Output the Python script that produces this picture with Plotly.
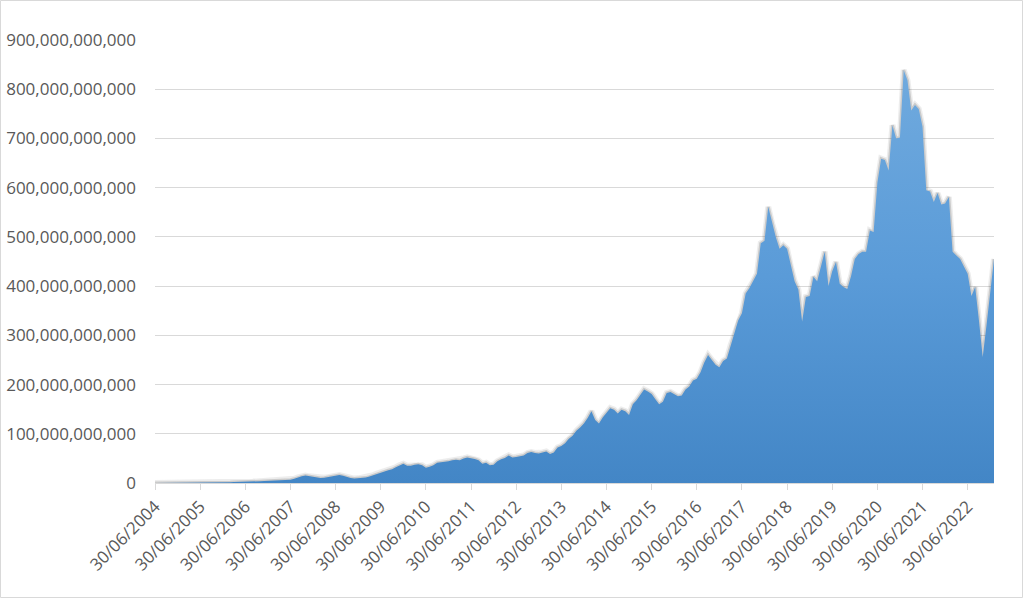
import pandas as pd
import plotly.graph_objects as go

# Monthly values in billions, June 2004 .. January 2023 (224 months)
values_bn = [
    0.2, 0.2, 0.2, 0.3, 0.3, 0.3, 0.4, 0.4, 0.4, 0.5,
    0.5, 0.6, 0.6, 0.7, 0.7, 0.8, 0.9, 1.0, 1.1, 1.3,
    1.6, 2.2, 2.6, 2.8, 3.0, 3.1, 3.0, 3.3, 3.6, 3.9,
    4.2, 4.4, 4.8, 5.5, 5.2, 5.6, 6.5, 8.5, 11.5, 13.5,
    15.0, 13.5, 12.5, 11.0, 10.0, 10.5, 11.8, 13.5, 14.0, 16.0,
    14.5, 12.0, 10.0, 9.0, 9.5, 10.8, 11.0, 13.0, 16.0, 19.0,
    21.0, 23.5, 26.0, 28.0, 32.0, 36.0, 39.0, 35.0, 35.0, 37.0,
    38.0, 36.0, 31.0, 33.0, 36.0, 41.0, 42.0, 42.0, 44.0, 46.0,
    47.0, 46.0, 50.0, 52.0, 51.0, 49.0, 46.0, 39.0, 41.0, 36.0,
    37.0, 44.0, 48.0, 51.0, 56.0, 52.0, 53.0, 55.0, 56.0, 61.0,
    63.0, 61.0, 60.0, 62.0, 64.0, 59.0, 62.0, 72.0, 75.0, 81.0,
    90.0, 96.0, 106.0, 113.0, 121.0, 132.0, 146.0, 128.0, 121.0, 133.0,
    143.0, 152.0, 149.0, 141.0, 149.0, 146.0, 138.0, 160.0, 168.0, 180.0,
    190.0, 186.0, 181.0, 170.0, 160.0, 165.0, 183.0, 185.0, 181.0, 176.0,
    178.0, 190.0, 196.0, 208.0, 212.0, 225.0, 245.0, 260.0, 250.0, 240.0,
    235.0, 248.0, 253.0, 280.0, 305.0, 330.0, 345.0, 385.0, 396.0, 410.0,
    425.0, 487.0, 492.0, 561.0, 528.0, 500.0, 476.0, 483.0, 476.0, 440.0,
    410.0, 393.0, 328.0, 378.0, 380.0, 419.0, 410.0, 440.0, 470.0, 400.0,
    430.0, 449.0, 405.0, 398.0, 394.0, 420.0, 455.0, 465.0, 470.0, 470.0,
    513.0, 510.0, 610.0, 659.0, 656.0, 635.0, 727.0, 700.0, 702.0, 839.0,
    818.0, 757.0, 768.0, 760.0, 724.0, 595.0, 592.0, 571.0, 589.0, 566.0,
    568.0, 581.0, 470.0, 462.0, 455.0, 440.0, 425.0, 380.0, 398.0, 330.0,
    256.0, 320.0, 390.0, 455.0,
]
values = [v * 1e9 for v in values_bn]

dates = pd.date_range("2004-06-30", periods=len(values), freq="ME")
categories = [d.strftime("%d/%m/%Y") for d in dates]
tick_labels = [c for c in categories if c.startswith("30/06/")]

y_ticks = [i * 100e9 for i in range(10)]

GRID = "#d9d9d9"
TEXT = "#595959"
FONT = "Open Sans"

fig = go.Figure()

# soft shadow along the top edge
fig.add_trace(go.Scatter(
    x=categories, y=values, mode="lines",
    line=dict(color="rgba(80,80,80,0.10)", width=6),
    hoverinfo="skip", showlegend=False,
))
fig.add_trace(go.Scatter(
    x=categories, y=values, mode="lines",
    line=dict(color="rgba(70,70,70,0.20)", width=3),
    hoverinfo="skip", showlegend=False,
))
fig.add_trace(go.Scatter(
    x=categories, y=values, mode="lines",
    line=dict(width=0, color="#5b9bd5"),
    fill="tozeroy",
    fillgradient=dict(
        type="vertical",
        start=0, stop=840e9,
        colorscale=[[0, "#4386c6"], [0.5, "#5a9bd8"], [1, "#70aade"]],
    ),
    showlegend=False,
))

L, R, T, B = 155, 30, 40, 116
W, H = 1024, 599
pw, ph = W - L - R, H - T - B

fig.update_layout(
    width=W, height=H,
    margin=dict(l=L, r=R, t=T, b=B, autoexpand=False),
    paper_bgcolor="white", plot_bgcolor="white",
    font=dict(family=FONT, color=TEXT, size=17),
    showlegend=False,
    xaxis=dict(
        type="category",
        automargin=False,
        range=[0, len(values) - 1],
        tickmode="array", tickvals=tick_labels, ticktext=tick_labels,
        tickangle=-45,
        ticks="outside", ticklen=6, tickcolor=GRID, tickwidth=1,
        showline=True, linecolor=GRID, linewidth=1,
        showgrid=False, zeroline=False,
        tickfont=dict(family=FONT, size=17, color=TEXT),
    ),
    yaxis=dict(
        automargin=False,
        range=[0, 900e9],
        tickmode="array", tickvals=y_ticks,
        tickformat=",.0f",
        showgrid=True, gridcolor=GRID, gridwidth=1,
        zeroline=False, showline=False,
        ticks="", ticklabelstandoff=18,
        tickfont=dict(family=FONT, size=17, color=TEXT),
    ),
    shapes=[dict(
        type="rect", xref="paper", yref="paper",
        x0=(0.5 - L) / pw, x1=(1022.5 - L) / pw,
        y0=(H - B - 597.5) / ph, y1=(H - B - 0.5) / ph,
        line=dict(color=GRID, width=1), fillcolor="rgba(0,0,0,0)",
        layer="below",
    )],
)

fig.write_html(
    "out.html",
    config={"displayModeBar": False},
    post_script="document.body.style.margin='0px';document.body.style.overflow='hidden';",
)
